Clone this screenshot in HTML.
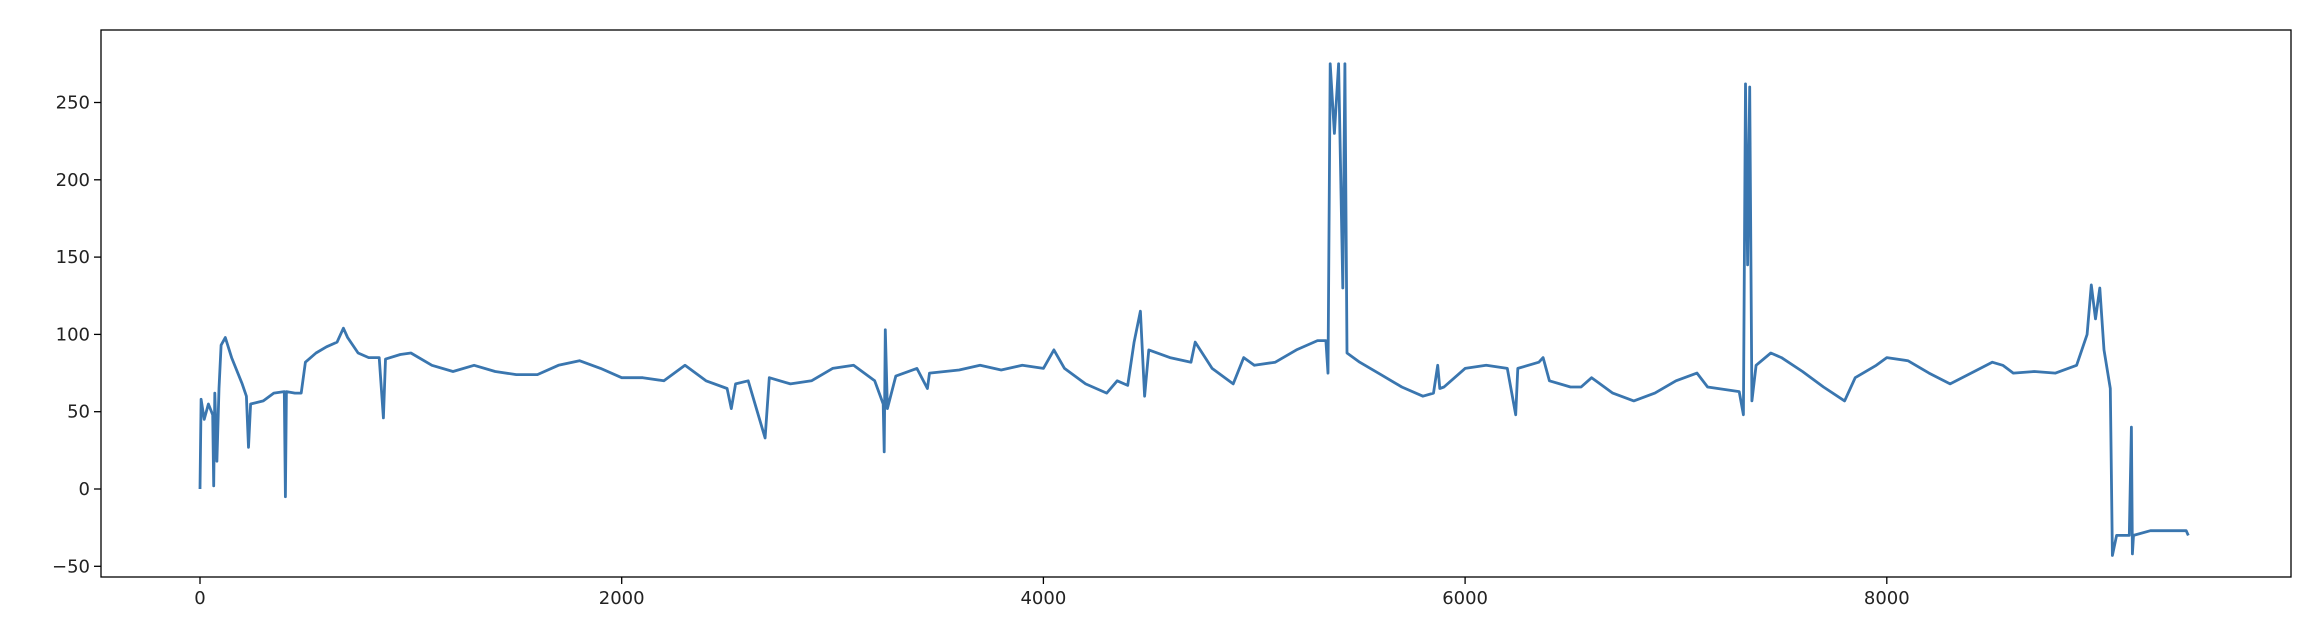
<!DOCTYPE html>
<html><head><meta charset="utf-8"><style>
html,body{margin:0;padding:0;background:#fff;}
svg{display:block;font-family:"DejaVu Sans","Liberation Sans",sans-serif;}
</style></head><body>
<svg id="chart" width="2320" height="620"></svg>
<script>
const xIdx=[0,5,20,40,60,65,70,80,90,100,120,150,200,220,230,240,300,350,400,405,410,450,480,500,550,600,650,680,700,750,800,850,870,880,950,1000,1100,1200,1300,1400,1500,1600,1700,1800,1900,2000,2100,2200,2300,2400,2500,2520,2540,2600,2680,2700,2800,2900,3000,3100,3200,3240,3245,3250,3260,3300,3400,3450,3460,3600,3700,3800,3900,4000,4050,4100,4200,4300,4350,4400,4430,4460,4480,4500,4600,4700,4720,4800,4900,4950,5000,5100,5200,5300,5340,5350,5360,5380,5400,5420,5430,5440,5500,5600,5700,5800,5850,5870,5880,5900,6000,6100,6200,6240,6250,6350,6370,6400,6500,6550,6600,6700,6800,6900,7000,7100,7150,7300,7320,7330,7340,7350,7360,7380,7450,7500,7600,7700,7800,7850,7950,8000,8100,8200,8300,8400,8500,8550,8600,8700,8800,8900,8950,8970,8990,9010,9030,9060,9070,9090,9150,9160,9165,9170,9250,9420,9430];
const yVal=[0,58,45,55,48,2,62,18,65,93,98,85,68,60,27,55,57,62,63,-5,63,62,62,82,88,92,95,104,98,88,85,85,46,84,87,88,80,76,80,76,74,74,80,83,78,72,72,70,80,70,65,52,68,70,33,72,68,70,78,80,70,55,24,103,52,73,78,65,75,77,80,77,80,78,90,78,68,62,70,67,95,115,60,90,85,82,95,78,68,85,80,82,90,96,96,75,275,230,275,130,275,88,82,74,66,60,62,80,65,66,78,80,78,48,78,82,85,70,66,66,72,62,57,62,70,75,66,63,48,262,145,260,57,80,88,85,76,66,57,72,80,85,83,75,68,75,82,80,75,76,75,80,100,132,110,130,90,65,-43,-30,-30,40,-42,-30,-27,-27,-30];
const xTicks=[0,2000,4000,6000,8000];
const yTicks=[-50,0,50,100,150,200,250];
const L=101,R=2291,T=30,B=577;
const xs=v=>200+v*0.21085;
const ys=v=>489-v*1.546;
const svg=document.getElementById('chart');
const NS='http://www.w3.org/2000/svg';
function mk(t,a){const e=document.createElementNS(NS,t);for(const k in a)e.setAttribute(k,a[k]);svg.appendChild(e);return e;}
let d='';
for(let i=0;i<xIdx.length;i++){d+=(i?'L':'M')+xs(xIdx[i]).toFixed(1)+' '+ys(yVal[i]).toFixed(1);}
const p=mk('path',{d:d,fill:'none',stroke:'#3a76af','stroke-width':2.8,'stroke-linejoin':'round'});


xTicks.forEach(v=>{
  const x=xs(v);
  const tk=mk('line',{x1:x,x2:x,y1:B,y2:B+7,stroke:'#000','stroke-width':1.3});
  
  
  const t=mk('text',{x:x,y:B+27,'text-anchor':'middle','font-size':18,fill:'#222'});
  t.textContent=v;
  
  
});
yTicks.forEach(v=>{
  const y=ys(v);
  const tk=mk('line',{x1:L-7,x2:L,y1:y,y2:y,stroke:'#000','stroke-width':1.3});
  
  
  const t=mk('text',{x:L-11,y:y+6,'text-anchor':'end','font-size':18,fill:'#222'});
  t.textContent=v<0?'\u2212'+(-v):v;
  
  
});
const fr=mk('rect',{x:L,y:T,width:R-L,height:B-T,fill:'none',stroke:'#000','stroke-width':1.3});


</script>
</body></html>
